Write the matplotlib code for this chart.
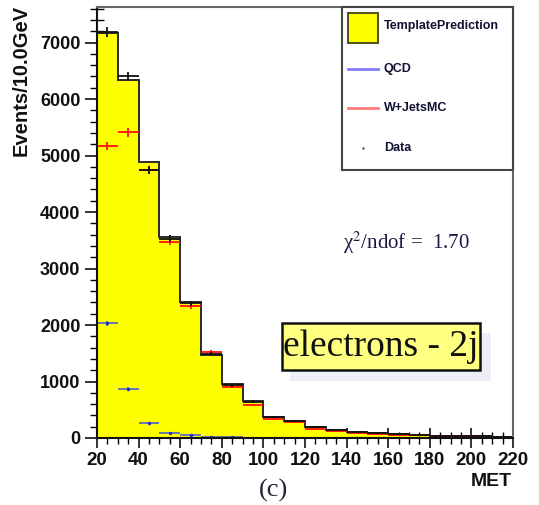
import numpy as np
import matplotlib
matplotlib.use("Agg")
import matplotlib.pyplot as plt
from matplotlib.patches import Rectangle
from matplotlib.lines import Line2D
from matplotlib.ticker import MultipleLocator

# MET binning (GeV), 10 GeV bins
bin_edges = np.arange(20, 230, 10)

template_prediction = [7170, 6340, 4890, 3560, 2405, 1465, 952, 654, 377, 306,
                       189, 135, 100, 80, 62, 50, 40, 33, 28, 24]
wjets_mc = [5165, 5410, 4745, 3470, 2337, 1520, 910, 585, 336, 283,
            168, 122, 90, 72, 56, 45, 36, 30, 25, 22]
qcd = [2030, 866, 268, 88, 48, 20, 10, 6, 4, 3, 2, 2, 1, 1, 1, 1, 1, 1, 1, 1]
data = [7185, 6400, 4745, 3530, 2385, 1490, 940, 645, 375, 305,
        192, 138, 100, 82, 62, 50, 40, 34, 28, 24]

x_ticks = [20, 40, 60, 80, 100, 120, 140, 160, 180, 200, 220]
y_ticks = [0, 1000, 2000, 3000, 4000, 5000, 6000, 7000]

W, H = 539, 505
fig = plt.figure(figsize=(W / 100, H / 100), dpi=100)


def fx(px):
    return px / W


def fy(py):
    return 1 - py / H


ax = fig.add_axes([fx(97), fy(438), fx(513) - fx(97), fy(7) - fy(438)])
ax.set_axisbelow(True)

centers = 0.5 * (bin_edges[:-1] + bin_edges[1:])
half = 0.5 * np.diff(bin_edges)

# template prediction: filled histogram with outline
ax.stairs(template_prediction, bin_edges, fill=True, color="#ffff00", zorder=1)
ax.stairs(template_prediction, bin_edges, color="#2a2a2a", lw=1.4, zorder=2)

qcd_arr = np.array(qcd, dtype=float)
wj_arr = np.array(wjets_mc, dtype=float)
data_arr = np.array(data, dtype=float)

ax.errorbar(centers, qcd_arr, xerr=half, yerr=np.sqrt(qcd_arr), fmt="none",
            ecolor="#5e6cb8", elinewidth=1.3, zorder=3)
ax.plot(centers, qcd_arr, ".", color="#2030d0", ms=3, zorder=3)
ax.errorbar(centers, wj_arr, xerr=half, yerr=np.sqrt(wj_arr), fmt="none",
            ecolor="#ff1010", elinewidth=1.3, zorder=4)
ax.errorbar(centers, data_arr, xerr=half, yerr=np.sqrt(data_arr), fmt="none",
            ecolor="#111111", elinewidth=1.3, zorder=5)

ax.set_xlim(20, 220)
ax.set_ylim(0, 7630)

ax.set_xticks(x_ticks)
ax.set_xticklabels([str(v) for v in x_ticks])
ax.set_yticks(y_ticks)
ax.set_yticklabels([str(v) for v in y_ticks])
ax.xaxis.set_minor_locator(MultipleLocator(5))
ax.yaxis.set_minor_locator(MultipleLocator(200))

ax.tick_params(axis="x", which="major", direction="inout", length=14, width=1.2,
               pad=3, labelsize=13.5, colors="#111111")
ax.tick_params(axis="x", which="minor", direction="inout", length=8, width=1.0)
ax.tick_params(axis="y", which="major", direction="inout", length=18, width=1.2,
               pad=3, labelsize=13, colors="#111111")
ax.tick_params(axis="y", which="minor", direction="inout", length=10, width=1.0)
for lab in ax.get_xticklabels() + ax.get_yticklabels():
    lab.set_fontfamily("Liberation Sans")
    lab.set_fontweight("bold")

for side in ("left", "bottom"):
    ax.spines[side].set_color("#111111")
    ax.spines[side].set_linewidth(1.5)
for side in ("top", "right"):
    ax.spines[side].set_color("#666666")
    ax.spines[side].set_linewidth(1.5)
for sp in ax.spines.values():
    sp.set_zorder(6)

# axis titles
fig.text(fx(21), fy(5), "Events/10.0GeV", rotation=90, ha="center", va="top",
         fontsize=14.5, fontweight="bold", family="Liberation Sans", color="#111111")
fig.text(fx(512), fy(482), "MET", ha="right", va="center",
         fontsize=14, fontweight="bold", family="Liberation Sans", color="#111111")
fig.text(fx(274), fy(490), "(c)", ha="center", va="center",
         fontsize=19, family="Liberation Serif", color="#222233")

# chi2 annotation
plt.rcParams["mathtext.fontset"] = "stix"
fig.text(fx(343), fy(243), "χ$^{2}$/ndof =  1.70", ha="left", va="center",
         fontsize=15, family="Liberation Serif", color="#1a1a44")

# channel label box with soft shadow
fig.patches.append(Rectangle((fx(290), fy(381)), fx(491) - fx(290), fy(333) - fy(381),
                             transform=fig.transFigure, facecolor="#eeeef8",
                             edgecolor="none", zorder=7))
fig.patches.append(Rectangle((fx(282), fy(370)), fx(480) - fx(282), fy(323) - fy(370),
                             transform=fig.transFigure, facecolor="#ffff80",
                             edgecolor="#111111", lw=1.8, zorder=8))
fig.text(fx(381), fy(347), "electrons - 2j", ha="center", va="center",
         fontsize=27, family="Liberation Serif", color="#111111", zorder=9)

# legend
fig.patches.append(Rectangle((fx(342), fy(170)), fx(513) - fx(342), fy(7) - fy(170),
                             transform=fig.transFigure, facecolor="white",
                             edgecolor="#444444", lw=1.5, zorder=7))
fig.patches.append(Rectangle((fx(348), fy(43)), fx(378) - fx(348), fy(13) - fy(43),
                             transform=fig.transFigure, facecolor="#ffff00",
                             edgecolor="#555522", lw=1.5, zorder=8))
fig.lines.append(Line2D([fx(348), fx(378)], [fy(69), fy(69)], transform=fig.transFigure,
                        color="#7f7fff", lw=2, zorder=8))
fig.lines.append(Line2D([fx(348), fx(378)], [fy(108), fy(108)], transform=fig.transFigure,
                        color="#ff7f7f", lw=2, zorder=8))
fig.lines.append(Line2D([fx(363)], [fy(148)], transform=fig.transFigure, marker=".",
                        ms=1.5, color="#555555", zorder=8))
for label, py in [("TemplatePrediction", 26), ("QCD", 69), ("W+JetsMC", 108), ("Data", 148)]:
    fig.text(fx(384), fy(py), label, ha="left", va="center", fontsize=9,
             fontweight="bold", family="Liberation Sans", color="#111133", zorder=9)

fig.savefig("out.png", dpi=100)
